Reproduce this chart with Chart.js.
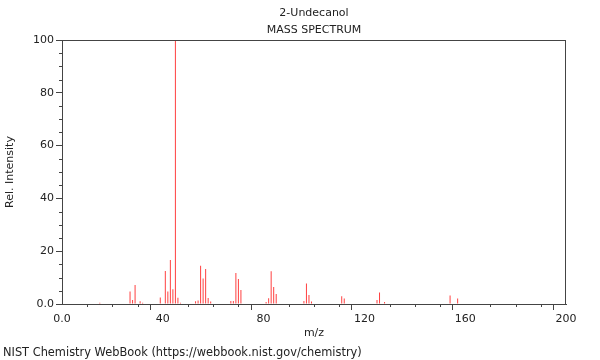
<!DOCTYPE html>
<html lang="en">
<head>
  <meta charset="UTF-8">
  <title>2-Undecanol Mass Spectrum</title>
  <script src="https://cdn.jsdelivr.net/npm/chart.js"></script>
  <style>
    body { margin: 0; background: #fff; }
    #wrap { width: 600px; height: 360px; }
  </style>
</head>
<body>
  <div id="wrap"><canvas id="spectrum" width="600" height="360"></canvas></div>
  <script>
    // m/z values and relative intensities
    const mz = [15, 27, 28, 29, 31, 32, 39, 41, 42, 43, 44, 45, 46, 47,
                53, 54, 55, 56, 57, 58, 59, 67, 68, 69, 70, 71,
                81, 82, 83, 84, 85, 96, 97, 98, 99, 111, 112,
                125, 126, 128, 154, 157];
    const intensity = [0.5, 4.7, 1.5, 7.2, 1.0, 0.5, 2.5, 12.5, 4.7, 16.7, 5.6, 100, 2.4, 0.5,
                       1.0, 1.3, 14.5, 9.7, 13.3, 2.3, 0.9, 1.1, 1.1, 11.7, 9.5, 5.3,
                       0.8, 2.2, 12.4, 6.4, 3.8, 1.1, 7.8, 3.4, 0.9, 2.9, 2.1,
                       1.5, 4.4, 0.8, 3.2, 2.1];
    const xMajor = [0, 40, 80, 120, 160, 200];
    const yMajor = [0, 20, 40, 60, 80, 100];

    const axisColor = '#444';
    const textColor = '#222';
    const font = { family: 'DejaVu Sans', size: 11 };

    const fmt = v => (v === 0 ? '0.0' : String(v));

    // frame, minor ticks and the text around the plot
    const decor = {
      id: 'decor',
      afterDraw(chart) {
        const { ctx, chartArea: a, scales } = chart;
        ctx.save();
        ctx.strokeStyle = axisColor;
        ctx.lineWidth = 1;
        ctx.strokeRect(a.left + 0.5, a.top + 0.5, a.right - a.left - 1, a.bottom - a.top);

        ctx.beginPath();
        for (let v = 0; v <= 200; v += 10) {
          if (xMajor.includes(v)) continue;
          const px = Math.round(scales.x.getPixelForValue(v)) + 0.5;
          ctx.moveTo(px, a.bottom);
          ctx.lineTo(px, a.bottom + 3);
        }
        for (let v = 0; v <= 100; v += 5) {
          if (yMajor.includes(v)) continue;
          const py = Math.round(scales.y.getPixelForValue(v)) + 0.5;
          ctx.moveTo(a.left, py);
          ctx.lineTo(a.left - 3, py);
        }
        ctx.stroke();

        ctx.fillStyle = textColor;
        ctx.font = '11px "DejaVu Sans"';
        ctx.textBaseline = 'middle';
        ctx.textAlign = 'center';
        const cx = (a.left + a.right) / 2;
        ctx.fillText('2-Undecanol', cx, 13);
        ctx.fillText('MASS SPECTRUM', cx, 30);
        ctx.textAlign = 'left';
        ctx.font = '11.4px "DejaVu Sans"';
        ctx.fillText('NIST Chemistry WebBook (https://webbook.nist.gov/chemistry)', 3, 353);
        ctx.restore();
      }
    };

    new Chart(document.getElementById('spectrum'), {
      type: 'bar',
      data: {
        datasets: [{
          data: mz.map((m, i) => ({ x: m, y: intensity[i] })),
          backgroundColor: 'rgb(255, 64, 64)',
          borderWidth: 0,
          inflateAmount: 0,
          barThickness: 1
        }]
      },
      options: {
        responsive: false,
        animation: false,
        layout: { padding: { left: 0, right: 34, top: 40, bottom: 16 } },
        plugins: { legend: { display: false }, tooltip: { enabled: false } },
        scales: {
          x: {
            type: 'linear',
            min: 0, max: 200,
            offset: false,
            afterFit: s => { s.height = 40; },
            border: { color: axisColor },
            grid: {
              drawOnChartArea: false,
              tickLength: 6,
              tickColor: c => (xMajor.includes(c.tick && c.tick.value) ? axisColor : 'rgba(0,0,0,0)')
            },
            ticks: {
              stepSize: 10,
              autoSkip: false,
              maxRotation: 0,
              padding: 3,
              color: textColor,
              font: font,
              callback: v => (xMajor.includes(v) ? fmt(v) : '')
            },
            title: { display: true, text: 'm/z', color: textColor, font: font }
          },
          y: {
            min: 0, max: 100,
            afterFit: s => { s.width = 62; },
            border: { color: axisColor },
            grid: {
              drawOnChartArea: false,
              tickLength: 6,
              tickColor: c => (yMajor.includes(c.tick && c.tick.value) ? axisColor : 'rgba(0,0,0,0)')
            },
            ticks: {
              stepSize: 5,
              autoSkip: false,
              padding: 2,
              color: textColor,
              font: font,
              callback: v => (yMajor.includes(v) ? fmt(v) : '')
            },
            title: { display: true, text: 'Rel. Intensity', color: textColor, font: font }
          }
        }
      },
      plugins: [decor]
    });
  </script>
</body>
</html>
